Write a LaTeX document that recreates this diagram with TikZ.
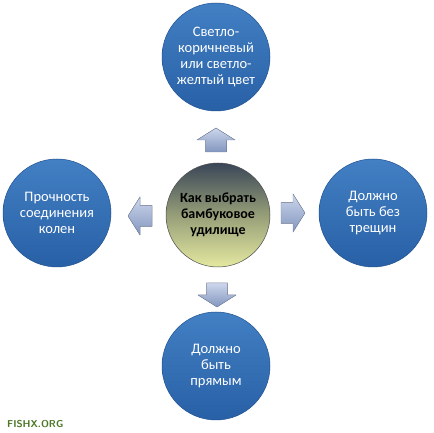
\documentclass[tikz,border=0pt]{standalone}
\usepackage{fontspec}
\setmainfont{Carlito}
\usetikzlibrary{shadings}
\definecolor{circblue}{RGB}{50,116,190}
\definecolor{circbluedark}{RGB}{40,96,166}
\definecolor{circblueedge}{RGB}{34,82,145}
\definecolor{ctop}{RGB}{58,70,88}
\definecolor{cmid}{RGB}{150,158,120}
\definecolor{cbot}{RGB}{228,232,160}
\definecolor{arrtop}{RGB}{205,214,236}
\definecolor{arrbot}{RGB}{130,150,190}
\definecolor{arredge}{RGB}{120,135,165}
\definecolor{markgreen}{RGB}{76,120,40}
\tikzset{
  x=1pt, y=1pt,
  bluecirc/.style={circle, minimum size=108pt, inner sep=0pt,
    top color=circblue!92!white, bottom color=circbluedark, draw=circblueedge, line width=0.5pt,
    text=white, align=center, font=\fontsize{14.5}{16}\selectfont},
  centercirc/.style={circle, minimum size=104pt, inner sep=0pt,
    top color=ctop, bottom color=cbot, middle color=cmid, draw=gray!60!black, line width=0.5pt,
    text=black, align=center, font=\bfseries\fontsize{14}{16}\selectfont},
  blockarrow/.pic={
    \fill[top color=arrtop, bottom color=arrbot, draw=arredge, line width=0.4pt, shading angle=0]
      (-12,-10.5) -- (0,-10.5) -- (0,-19) -- (12,0) -- (0,19) -- (0,10.5) -- (-12,10.5) -- cycle;
  }
}
\begin{document}
\begin{tikzpicture}
\useasboundingbox (0,0) rectangle (434,433);
\fill[white] (0,0) rectangle (434,433);
\node[centercirc] (c) at (218,218) {Как выбрать\\бамбуковое\\удилище};
\node[bluecirc] (t) at (216,376) {Светло-\\коричневый\\или светло-\\желтый цвет};
\node[bluecirc] (l) at (57,220) {Прочность\\соединения\\колен};
\node[bluecirc] (r) at (373,220) {Должно\\быть без\\трещин};
\node[bluecirc] (b) at (216,67) {Должно\\быть\\прямым};
\pic[rotate=90] (au) at (216,293) {blockarrow};
\pic[rotate=180] (al) at (140,217) {blockarrow};
\pic[rotate=0] (ar) at (293,220) {blockarrow};
\pic[rotate=-90] (ad) at (217,138) {blockarrow};
\node[anchor=west, text=markgreen, font=\bfseries\sffamily\fontsize{10}{12}\selectfont, inner sep=0pt] (mark) at (7,9) {FISHX.ORG};
\end{tikzpicture}
\end{document}
